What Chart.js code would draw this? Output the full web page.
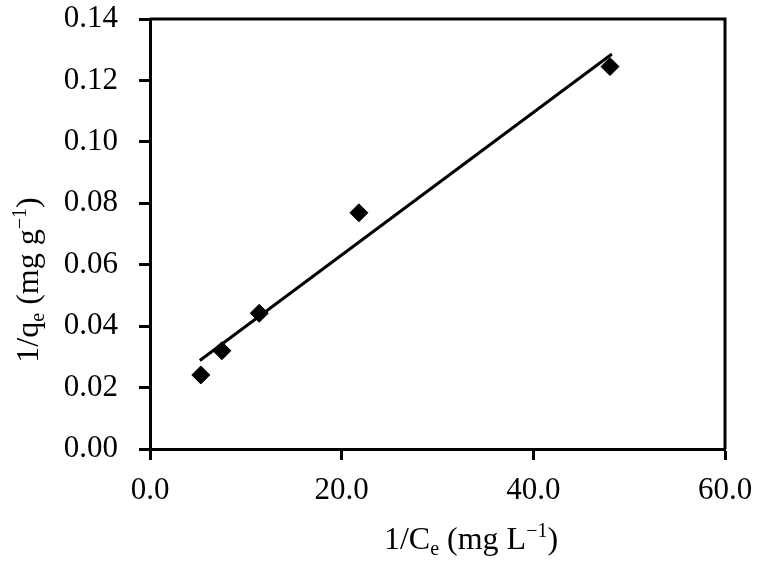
<!DOCTYPE html>
<html>
<head>
<meta charset="utf-8">
<script src="https://cdn.jsdelivr.net/npm/chart.js@4/dist/chart.umd.min.js"></script>
<style>
  html, body { margin: 0; padding: 0; background: #ffffff; }
  #wrap { width: 760px; height: 564px; }
</style>
</head>
<body>
<div id="wrap"><canvas id="c" width="760" height="564"></canvas></div>
<script>
// Data
const xValues = [5.3, 7.5, 11.4, 21.8, 48.0];          // 1/Ce (mg L^-1)
const yValues = [0.0241, 0.0320, 0.0442, 0.0769, 0.1245]; // 1/qe (mg g^-1)
const fitX = [5.2, 48.2];
const fitY = [0.0288, 0.1286];
const xTicks = [0, 20, 40, 60];
const yTicks = [0, 0.02, 0.04, 0.06, 0.08, 0.10, 0.12, 0.14];

const FONT = '"Liberation Serif", "Times New Roman", serif';

const titlePlugin = {
  id: 'richTitles',
  afterDraw(chart) {
    const ctx = chart.ctx;
    const area = chart.chartArea;
    // frame: top and right lines
    ctx.save();
    ctx.strokeStyle = '#000';
    ctx.lineWidth = 3;
    ctx.beginPath();
    ctx.moveTo(area.left, area.top);
    ctx.lineTo(area.right, area.top);
    ctx.lineTo(area.right, area.bottom);
    ctx.stroke();
    ctx.restore();

    function drawRich(segs, cx, cy, rot) {
      ctx.save();
      ctx.translate(cx, cy);
      ctx.rotate(rot);
      ctx.fillStyle = '#000';
      ctx.textBaseline = 'alphabetic';
      let w = 0;
      segs.forEach(s => {
        ctx.font = (s.sub || s.sup ? '20px ' : '32px ') + FONT;
        s.w = ctx.measureText(s.t).width;
        w += s.w;
      });
      let x = -w / 2;
      segs.forEach(s => {
        ctx.font = (s.sub || s.sup ? '20px ' : '32px ') + FONT;
        let dy = 11;
        if (s.sub) dy += 6;
        if (s.sup) dy -= 12;
        ctx.fillText(s.t, x, dy);
        x += s.w;
      });
      ctx.restore();
    }
    drawRich([{t:'1/C'},{t:'e',sub:true},{t:' (mg L'},{t:'\u22121',sup:true},{t:')'}], 471, 538, 0);
    drawRich([{t:'1/q'},{t:'e',sub:true},{t:' (mg g'},{t:'\u22121',sup:true},{t:')'}], 27, 280, -Math.PI / 2);
  }
};

function zeroPad(scale) {
  scale.paddingTop = 0;
  scale.paddingBottom = 0;
  scale.paddingLeft = 0;
  scale.paddingRight = 0;
}

new Chart(document.getElementById('c'), {
  type: 'scatter',
  data: {
    datasets: [
      {
        label: 'data',
        data: xValues.map((x, i) => ({ x: x, y: yValues[i] })),
        pointStyle: 'rectRot',
        pointRadius: 9,
        pointBackgroundColor: '#000',
        pointBorderColor: '#000',
        pointBorderWidth: 1,
        showLine: false,
        order: 1
      },
      {
        label: 'fit',
        data: fitX.map((x, i) => ({ x: x, y: fitY[i] })),
        showLine: true,
        borderColor: '#000',
        borderWidth: 3,
        pointRadius: 0,
        fill: false,
        order: 2
      }
    ]
  },
  options: {
    responsive: false,
    animation: false,
    events: [],
    layout: { padding: { left: 0, right: 35, top: 19, bottom: 0 } },
    plugins: { legend: { display: false }, tooltip: { enabled: false }, title: { display: false } },
    scales: {
      x: {
        type: 'linear',
        min: 0, max: 60,
        afterBuildTicks(scale) { scale.ticks = xTicks.map(v => ({ value: v })); },
        afterFit(scale) { scale.height = 115; zeroPad(scale); },
        ticks: {
          color: '#000',
          font: { family: FONT, size: 31 },
          padding: 12,
          maxRotation: 0,
          callback: v => v.toFixed(1)
        },
        grid: { display: true, drawOnChartArea: false, drawTicks: true, tickLength: 11, tickWidth: 3, tickColor: '#000', color: '#000' },
        border: { display: true, color: '#000', width: 3 }
      },
      y: {
        type: 'linear',
        min: 0, max: 0.14,
        afterBuildTicks(scale) { scale.ticks = yTicks.map(v => ({ value: v })); },
        afterFit(scale) { scale.width = 150; zeroPad(scale); },
        ticks: {
          color: '#000',
          font: { family: FONT, size: 31 },
          padding: 21,
          callback: v => v.toFixed(2)
        },
        grid: { display: true, drawOnChartArea: false, drawTicks: true, tickLength: 11, tickWidth: 3, tickColor: '#000', color: '#000' },
        border: { display: true, color: '#000', width: 3 }
      }
    }
  },
  plugins: [titlePlugin]
});
</script>
</body>
</html>
